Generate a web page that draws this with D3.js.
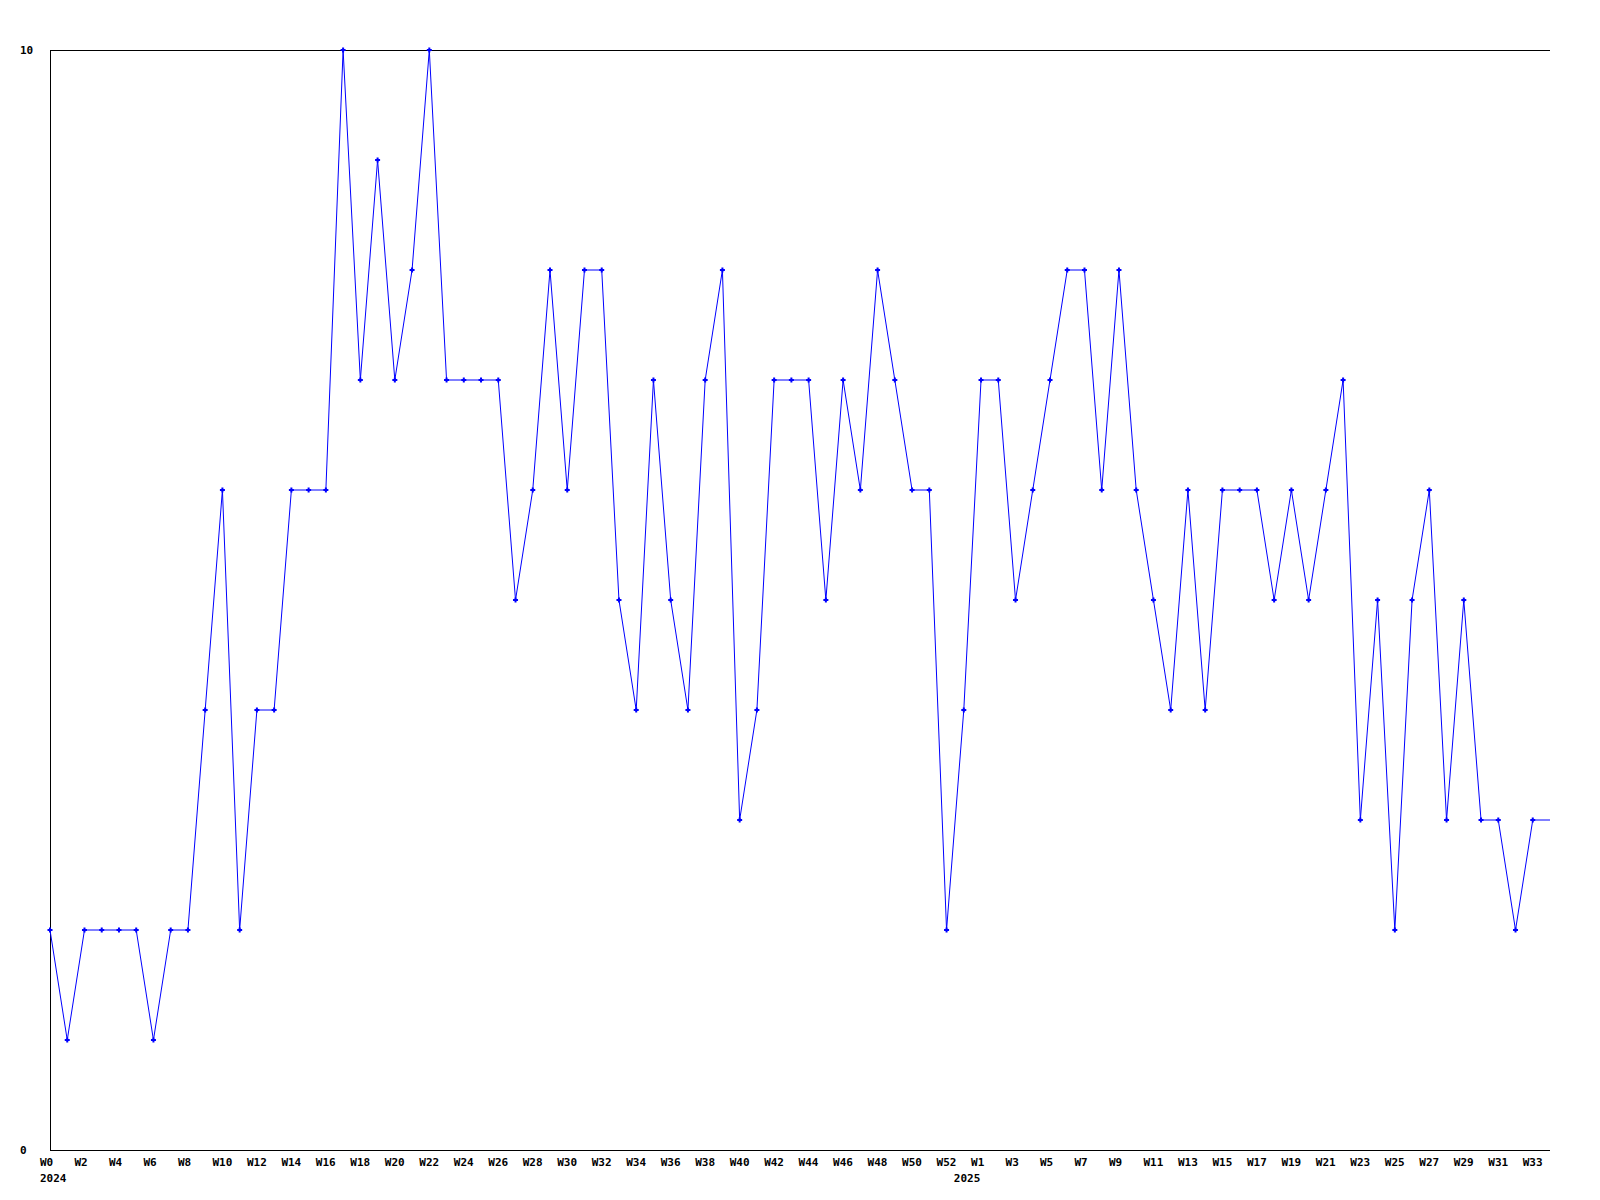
<!DOCTYPE html>
<html>
<head>
<meta charset="utf-8">
<script src="https://cdn.jsdelivr.net/npm/d3@7"></script>
<style>
  html, body { margin: 0; padding: 0; background: #fff; }
  svg { display: block; }
  text { font-family: "DejaVu Sans Mono", "Liberation Mono", monospace; font-weight: bold; font-size: 11px; fill: #000; }
</style>
</head>
<body>
<svg id="chart" width="1600" height="1200"></svg>
<script>
// Week labels (index order): 2024 W0..W52, 2025 W0..W34 (last week partial)
const weeks2024 = d3.range(0, 53).map(w => "W" + w);
const weeks2025 = d3.range(0, 35).map(w => "W" + w);
const categories = weeks2024.concat(weeks2025);
const yearLabels = [{ index: 0, label: "2024" }, { index: 53, label: "2025" }];

// Weekly values
const values = [
  2, 1, 2, 2, 2, 2, 1, 2, 2, 4,
  6, 2, 4, 4, 6, 6, 6, 10, 7, 9,
  7, 8, 10, 7, 7, 7, 7, 5, 6, 8,
  6, 8, 8, 5, 4, 7, 5, 4, 7, 8,
  3, 4, 7, 7, 7, 5, 7, 6, 8, 7,
  6, 6, 2, 4, 7, 7, 5, 6, 7, 8,
  8, 6, 8, 6, 5, 4, 6, 4, 6, 6,
  6, 5, 6, 5, 6, 7, 3, 5, 2, 5,
  6, 3, 5, 3, 3, 2, 3, 3
];
const markedCount = 87; // last (partial) week has no marker

const yTicks = [0, 10];

const svg = d3.select("#chart");
const mLeft = 50, mRight = 1550, mTop = 50, mBottom = 1150;

const x = d3.scaleLinear().domain([0, values.length - 1]).range([mLeft, mRight]);
const y = d3.scaleLinear().domain([0, 10]).range([mBottom, mTop]);

// horizontal lines at y ticks
svg.selectAll("line.grid").data(yTicks).join("line")
  .attr("x1", mLeft).attr("x2", mRight)
  .attr("y1", d => y(d) + 0.5).attr("y2", d => y(d) + 0.5)
  .attr("stroke", "#000").attr("stroke-width", 1);
// left axis line
svg.append("line")
  .attr("x1", mLeft + 0.5).attr("x2", mLeft + 0.5)
  .attr("y1", mTop).attr("y2", mBottom)
  .attr("stroke", "#000").attr("stroke-width", 1);

// y labels
svg.selectAll("text.ylab").data(yTicks).join("text")
  .attr("x", 20).attr("y", d => y(d) + 4)
  .text(d => d);

// x labels (every second week)
const xIdx = d3.range(0, markedCount, 2);
svg.selectAll("text.xlab").data(xIdx).join("text")
  .attr("x", d => x(d) - 10).attr("y", 1166)
  .text(d => categories[d]);

svg.selectAll("text.year").data(yearLabels).join("text")
  .attr("x", d => x(d.index) - 10).attr("y", 1182)
  .text(d => d.label);

// line
const line = d3.line().x((d, i) => x(i)).y(d => y(d));
svg.append("path").datum(values)
  .attr("d", line)
  .attr("fill", "none")
  .attr("stroke", "#0000ff")
  .attr("stroke-width", 1);

// markers
const pts = values.slice(0, markedCount);
svg.selectAll("path.mk").data(pts).join("path")
  .attr("transform", (d, i) => `translate(${x(i)},${y(d)})`)
  .attr("d", "M-2.5,-1 H-1 V-2.5 H1 V-1 H2.5 V1 H1 V2.5 H-1 V1 H-2.5 Z")
  .attr("fill", "#0000ff");
</script>
</body>
</html>
